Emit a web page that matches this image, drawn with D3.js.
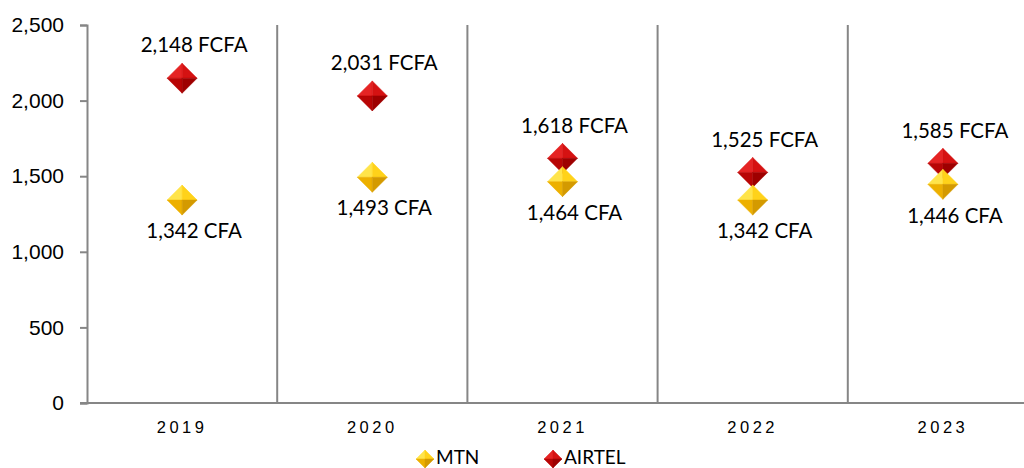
<!DOCTYPE html>
<html>
<head>
<meta charset="utf-8">
<script src="https://cdn.jsdelivr.net/npm/d3@7"></script>
<style>
  html, body { margin: 0; padding: 0; background: #fff; }
  svg { display: block; font-family: Lato, 'Open Sans', sans-serif; }
</style>
</head>
<body>
<div id="chart"></div>
<script>
// data
const years = ['2019', '2020', '2021', '2022', '2023'];
const mtn = [1342, 1493, 1464, 1342, 1446];
const airtel = [2148, 2031, 1618, 1525, 1585];
const yTicks = [0, 500, 1000, 1500, 2000, 2500];

const width = 1024, height = 468;
// plot area runs past the right edge like the original
const margin = { top: 25, left: 87, bottom: 65 };
const plotRight = 1038;

const svg = d3.select('#chart').append('svg')
	.attr('width', width)
	.attr('height', height);

const x = d3.scaleBand()
	.domain(years)
	.range([margin.left, plotRight])
	.padding(0);

const y = d3.scaleLinear()
	.domain([0, 2500])
	.range([height - margin.bottom, margin.top]);

const grey = '#868686';

// category separators
svg.append('g')
	.selectAll('line')
	.data(years.slice(1))
	.join('line')
	.attr('x1', d => x(d)).attr('x2', d => x(d))
	.attr('y1', y(2500)).attr('y2', y(0))
	.attr('stroke', grey)
	.attr('stroke-width', 2);

// y axis
const yAxis = svg.append('g')
	.attr('transform', `translate(${margin.left},0)`)
	.call(d3.axisLeft(y).tickValues(yTicks).tickSize(7).tickPadding(16).tickFormat(d3.format(',')));
yAxis.select('.domain').attr('stroke', grey).attr('stroke-width', 2);
yAxis.selectAll('.tick line').attr('stroke', grey).attr('stroke-width', 2);
yAxis.selectAll('.tick text')
	.attr('fill', '#000')
	.style('font-size', '21px');

// x axis
const xAxis = svg.append('g')
	.attr('transform', `translate(0,${y(0)})`)
	.call(d3.axisBottom(x).tickSize(0).tickPadding(18));
xAxis.select('.domain').attr('d', `M${margin.left - 7},0H${width}`).attr('stroke', grey).attr('stroke-width', 2);
xAxis.selectAll('.tick text')
	.attr('fill', '#000')
	.style('font-size', '16.5px')
	.style('letter-spacing', '3.5px');

// bevelled diamond marker
function diamond(g, r, shades) {
	const facets = [
		[[0, 0], [-r, 0], [0, -r], shades[0]],
		[[0, 0], [0, -r], [r, 0], shades[1]],
		[[0, 0], [-r, 0], [0, r], shades[2]],
		[[0, 0], [r, 0], [0, r], shades[3]]
	];
	facets.forEach(f => {
		g.append('path')
			.attr('d', d3.line()([f[0], f[1], f[2]]) + 'Z')
			.attr('fill', f[3])
			.attr('stroke', f[3])
			.attr('stroke-width', 0.5);
	});
}

const redShades = ['#E52424', '#D51212', '#B80505', '#9E0000'];
const goldShades = ['#FFE44A', '#FFD21A', '#EDB000', '#D49A00'];

const cx = d => x(d) + x.bandwidth() / 2;

// airtel then mtn markers
years.forEach((yr, i) => {
	const g = svg.append('g').attr('transform', `translate(${cx(yr)},${y(airtel[i])})`);
	diamond(g, 15, redShades);
});
years.forEach((yr, i) => {
	const g = svg.append('g').attr('transform', `translate(${cx(yr)},${y(mtn[i])})`);
	diamond(g, 15, goldShades);
});

const fmt = d3.format(',');
svg.append('g')
	.selectAll('text')
	.data(years)
	.join('text')
	.attr('x', d => cx(d) + 12)
	.attr('y', (d, i) => y(airtel[i]) - 31)
	.attr('text-anchor', 'middle')
	.attr('dominant-baseline', 'middle')
	.style('font-size', '20.5px')
	.text((d, i) => `${fmt(airtel[i])} FCFA`);

svg.append('g')
	.selectAll('text')
	.data(years)
	.join('text')
	.attr('x', d => cx(d) + 12)
	.attr('y', (d, i) => y(mtn[i]) + 33)
	.attr('text-anchor', 'middle')
	.attr('dominant-baseline', 'middle')
	.style('font-size', '20.5px')
	.text((d, i) => `${fmt(mtn[i])} CFA`);

// legend
const legend = [
	{ name: 'MTN', shades: goldShades, x: 425 },
	{ name: 'AIRTEL', shades: redShades, x: 553 }
];
legend.forEach(l => {
	const g = svg.append('g').attr('transform', `translate(${l.x},459)`);
	diamond(g, 9, l.shades);
	svg.append('text')
		.attr('x', l.x + 11)
		.attr('y', 459)
		.attr('dominant-baseline', 'middle')
		.style('font-size', '19px')
		.text(l.name);
});
</script>
</body>
</html>
